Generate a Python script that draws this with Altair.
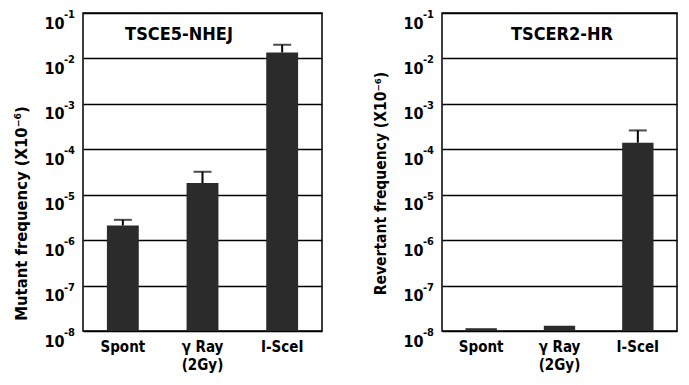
import altair as alt
import pandas as pd

categories = ["Spont", "γ Ray (2Gy)", "I-SceI"]
nhej_values = [2.1e-6, 1.8e-5, 1.35e-2]
nhej_err_top = [2.8e-6, 3.2e-5, 2.0e-2]
hr_values = [1.15e-8, 1.3e-8, 1.4e-4]
hr_err_top = [None, None, 2.6e-4]
tick_values = [1e-8, 1e-7, 1e-6, 1e-5, 1e-4, 1e-3, 1e-2, 1e-1]
tick_exponents = ["-8", "-7", "-6", "-5", "-4", "-3", "-2", "-1"]
baseline = 1e-8

FONT = "Liberation Sans Narrow, DejaVu Sans Condensed, Arial Narrow, Liberation Sans, sans-serif"
x_label_expr = "datum.label == 'γ Ray (2Gy)' ? ['γ Ray', '(2Gy)'] : datum.label"


def panel(values, errs, ytitle, name, w, h, title_x, title_y, title_pos, title_size):
    df = pd.DataFrame({"cat": categories, "value": values, "err": errs, "base": baseline})
    x = alt.X("cat:N", sort=categories, title=None,
              scale=alt.Scale(paddingInner=0.6, paddingOuter=0.3),
              axis=alt.Axis(labelAngle=0, labelFont=FONT, labelFontSize=15, labelFontWeight="bold",
                            labelColor="black", ticks=False, domain=False, labelPadding=8,
                            labelBaseline="top", labelExpr=x_label_expr, labelLineHeight=18))
    yscale = alt.Scale(type="log", domain=[1e-8, 1e-1], clamp=True)
    yaxis = alt.Axis(values=tick_values, labelExpr="'10'", grid=True,
                     gridColor="black", gridWidth=1.5, gridOpacity=1, ticks=False,
                     domain=False, labelFont=FONT, labelFontSize=16, labelFontWeight="bold",
                     labelColor="black", labelPadding=19, labelOffset=10,
                     titleFont=FONT, titleFontSize=title_size, titleFontWeight="bold",
                     titleColor="black", titleY=title_pos, titlePadding=14)
    bars = alt.Chart(df).mark_bar(color="#2b2b2b").encode(
        x=x,
        y=alt.Y("value:Q", scale=yscale, title=ytitle, axis=yaxis),
        y2="base:Q",
    )
    tdf = pd.DataFrame({"value": tick_values, "e": tick_exponents})
    expo = alt.Chart(tdf).mark_text(font=FONT, fontSize=11, fontWeight="bold", color="black",
                                    align="left", baseline="middle", dy=2).encode(
        x=alt.value(-19), y=alt.Y("value:Q", scale=yscale, title=ytitle, axis=yaxis), text="e:N")
    edf = df.dropna(subset=["err"])
    rule = alt.Chart(edf).mark_rule(color="black", strokeWidth=2).encode(
        x=alt.X("cat:N", sort=categories), y=alt.Y("value:Q", title=ytitle), y2="err:Q")
    cap = alt.Chart(edf).mark_tick(color="black", thickness=2, size=18, orient="horizontal").encode(
        x=alt.X("cat:N", sort=categories), y=alt.Y("err:Q", scale=yscale, title=ytitle))
    txt = alt.Chart(df.head(1)).mark_text(text=name, font=FONT, fontSize=18, fontWeight="bold",
                                          color="black").encode(
        x=alt.value(title_x), y=alt.value(title_y))
    return alt.layer(bars, rule, cap, expo, txt).properties(width=w, height=h)


left = panel(nhej_values, nhej_err_top, "Mutant frequency   (X10⁻⁶)", "TSCE5-NHEJ",
             239, 318, 96, 22, 200, 16.5)
right = panel(hr_values, hr_err_top, "Revertant frequency  (X10⁻⁶)", "TSCER2-HR",
              235, 318, 120, 22, 170, 15.5)

chart = alt.hconcat(left, right, spacing=50).properties(
    padding={"left": 5, "top": 0, "right": 2, "bottom": 2}, background="white"
).configure_view(stroke="black", strokeWidth=1.5)

chart.save("out.html", embed_options={"renderer": "svg", "actions": False})
